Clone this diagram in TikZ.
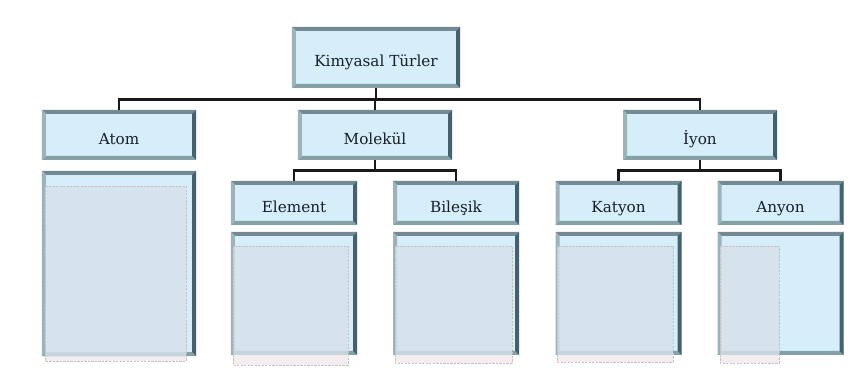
\documentclass[tikz,border=0pt]{standalone}
\usepackage{fontspec}
\setmainfont{DejaVu Serif}
\definecolor{boxfill}{HTML}{D5EEFA}
\definecolor{beveltop}{HTML}{718A93}
\definecolor{bevelleft}{HTML}{9DB2B9}
\definecolor{bevelright}{HTML}{45616D}
\definecolor{bevelbottom}{HTML}{86A0A8}
\definecolor{innergray}{HTML}{D7E1E9}
\definecolor{innerpink}{HTML}{F4EDF0}
\definecolor{dashgray}{HTML}{C4C0C4}
\definecolor{textdark}{HTML}{18202A}

\tikzset{
  bevel/.style={path picture={
    \fill[beveltop] (path picture bounding box.north west) -- (path picture bounding box.north east)
      -- ([xshift=-1.2mm,yshift=-1.2mm]path picture bounding box.north east)
      -- ([xshift=1.2mm,yshift=-1.2mm]path picture bounding box.north west) -- cycle;
    \fill[bevelbottom] (path picture bounding box.south west) -- (path picture bounding box.south east)
      -- ([xshift=-1.2mm,yshift=1.2mm]path picture bounding box.south east)
      -- ([xshift=1.2mm,yshift=1.2mm]path picture bounding box.south west) -- cycle;
    \fill[bevelleft] (path picture bounding box.north west) -- (path picture bounding box.south west)
      -- ([xshift=1.2mm,yshift=1.2mm]path picture bounding box.south west)
      -- ([xshift=1.2mm,yshift=-1.2mm]path picture bounding box.north west) -- cycle;
    \fill[bevelright] (path picture bounding box.north east) -- (path picture bounding box.south east)
      -- ([xshift=-1.2mm,yshift=1.2mm]path picture bounding box.south east)
      -- ([xshift=-1.2mm,yshift=-1.2mm]path picture bounding box.north east) -- cycle;
  }},
  card/.style={bevel, rectangle, fill=boxfill, inner sep=0pt, text=textdark,
    font=\fontsize{13}{15}\selectfont, text height=15.5pt, text depth=0pt},
  toplevel/.style={card, minimum width=5.04cm, minimum height=1.83cm},
  midlevel/.style={card, minimum width=4.62cm, minimum height=1.5cm},
  lowlevel/.style={card, minimum width=3.78cm, minimum height=1.32cm},
  panel/.style={card, minimum width=3.78cm, minimum height=3.69cm},
  conn/.style={draw=black!90, line width=2.4pt},
  slot/.style={draw=dashgray, line width=0.4pt, dash pattern=on 2pt off 1pt}
}

\begin{document}
\begin{tikzpicture}[x=0.03cm, y=-0.03cm]
    \useasboundingbox (0,0) rectangle (858,377);

    % headings
    \node[toplevel] (turler) at (376,57.5) {Kimyasal Türler};
    \node[midlevel] (atom) at (119,135) {Atom};
    \node[midlevel] (molekul) at (375,135) {Molekül};
    \node[midlevel] (iyon) at (700,135) {İyon};
    \node[lowlevel] (element) at (294,203) {Element};
    \node[lowlevel] (bilesik) at (456,203) {Bileşik};
    \node[lowlevel] (katyon) at (618.5,203) {Katyon};
    \node[lowlevel] (anyon) at (780.5,203) {Anyon};

    % connectors
    \draw[conn] (turler.south) -- ++(0,12);
    \draw[conn] (atom.north) -- ++(0,-10) -| (iyon.north);
    \draw[conn] (molekul.north) -- ++(0,-10);
    \draw[conn] (molekul.south) -- ++(0,11);
    \draw[conn] (element.north) -- ++(0,-10) -| (bilesik.north);
    \draw[conn] (iyon.south) -- ++(0,11);
    \draw[conn] (katyon.north) -- ++(0,-10) -| (anyon.north);

    % picture slots (part below the panels)
    \foreach \xa/\ya/\xb/\yb/\yc in {45/186/186/356/361, 233/246/348/355/365,
        395/246/512/355/363, 557/246/673/355/362, 720/246/779/355/363}
        \fill[innerpink] (\xa,\ya) rectangle (\xb,\yc);

    % panels
    \node[card, minimum width=4.62cm, minimum height=5.55cm] (atompanel) at (119,263.5) {};
    \node[panel] (elementpanel) at (294,293.5) {};
    \node[panel] (bilesikpanel) at (456,293.5) {};
    \node[panel] (katyonpanel) at (618.5,293.5) {};
    \node[panel] (anyonpanel) at (780.5,293.5) {};

    % picture slots
    \foreach \xa/\ya/\xb/\yb/\yc in {45/186/186/356/361, 233/246/348/355/365,
        395/246/512/355/363, 557/246/673/355/362, 720/246/779/355/363}
    {
        \fill[innergray, fill opacity=0.8] (\xa,\ya) rectangle (\xb,\yb);
        \draw[slot] (\xa,\ya) rectangle (\xb,\yc);
    }
\end{tikzpicture}
\end{document}
